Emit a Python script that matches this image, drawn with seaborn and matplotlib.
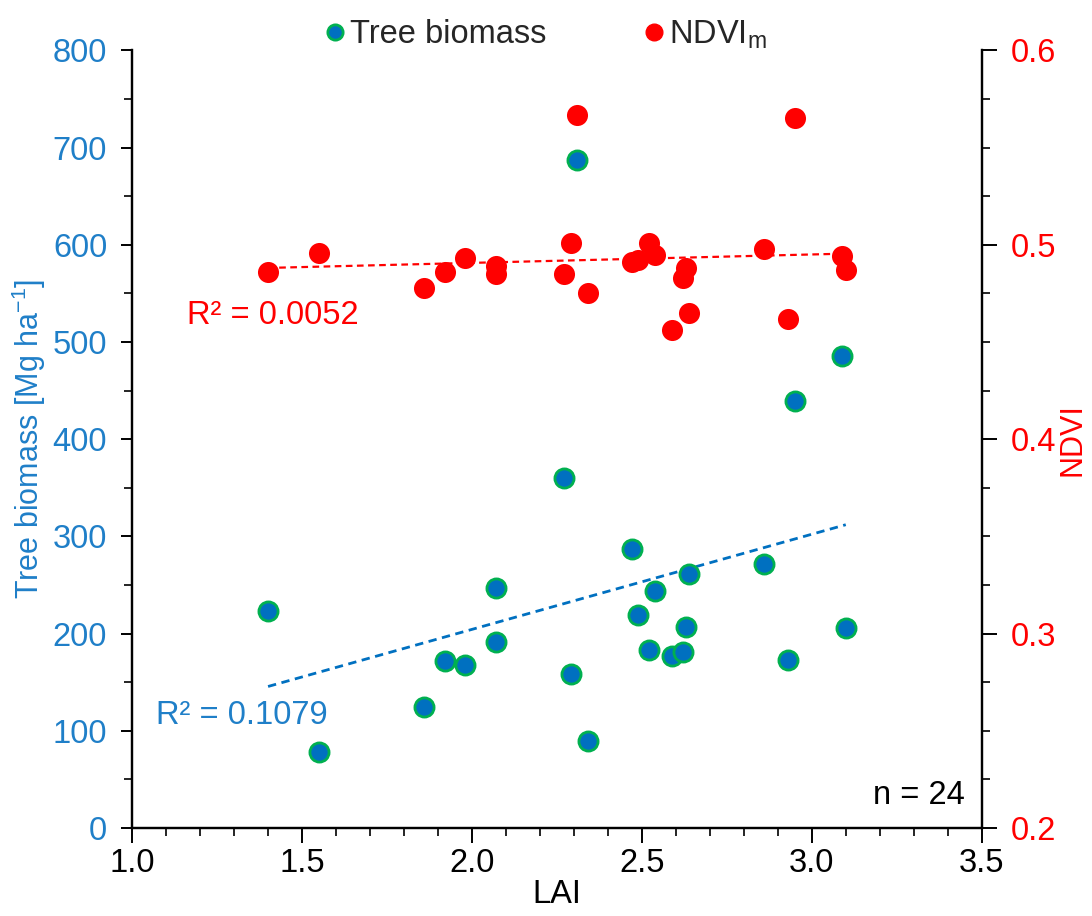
import numpy as np
import pandas as pd
import seaborn as sns
import matplotlib.pyplot as plt
from matplotlib.ticker import MultipleLocator
from matplotlib.lines import Line2D

# datos
lai = [1.40, 1.55, 1.86, 1.92, 1.98, 2.07, 2.07, 2.27, 2.29, 2.31, 2.34, 2.47,
       2.49, 2.52, 2.54, 2.59, 2.62, 2.63, 2.64, 2.86, 2.93, 2.95, 3.09, 3.10]
biomass = [223, 78, 125, 172, 168, 247, 191, 360, 158, 687, 90, 287,
           219, 183, 244, 177, 181, 207, 261, 272, 173, 439, 486, 206]
ndvi = [0.486, 0.496, 0.478, 0.486, 0.493, 0.489, 0.485, 0.485, 0.501, 0.567, 0.475, 0.491,
        0.492, 0.501, 0.495, 0.456, 0.483, 0.488, 0.465, 0.498, 0.462, 0.565, 0.494, 0.487]
r2_biomass = "R² = 0.1079"
r2_ndvi = "R² = 0.0052"
n_label = "n = 24"

df = pd.DataFrame({"LAI": lai, "biomass": biomass, "ndvi": ndvi})

blue = "#0070C0"
blue_txt = "#1F7FC8"
green = "#00B050"
red = "#FF0000"

sns.set_theme(style="ticks")
plt.rcParams['font.family'] = ['Liberation Sans', 'DejaVu Sans']
plt.rcParams['mathtext.fontset'] = 'custom'
plt.rcParams['mathtext.rm'] = 'Liberation Sans'
fs = 23.5

fig, ax = plt.subplots(figsize=(10.92, 9.16), dpi=100)
fig.subplots_adjust(left=0.121, right=0.899, bottom=0.096, top=0.945)
ax2 = ax.twinx()

# biomasa (eje izquierdo)
sns.regplot(data=df, x="LAI", y="biomass", scatter=False, ci=None, ax=ax, color=blue,
            line_kws=dict(ls=(0, (3, 2)), lw=2))
sns.scatterplot(data=df, x="LAI", y="biomass", ax=ax, color=blue, edgecolor=green,
                linewidth=2, s=190, zorder=3)

# NDVI (eje derecho)
sns.regplot(data=df, x="LAI", y="ndvi", scatter=False, ci=None, ax=ax2, color=red,
            line_kws=dict(ls=(0, (3, 2)), lw=1.6))
sns.scatterplot(data=df, x="LAI", y="ndvi", ax=ax2, color=red, edgecolor=red,
                linewidth=0, s=230, zorder=3)

ax.set_xlim(1.0, 3.5)
ax.set_ylim(0, 800)
ax2.set_ylim(0.2, 0.6)

ax.xaxis.set_major_locator(MultipleLocator(0.5))
ax.xaxis.set_minor_locator(MultipleLocator(0.1))
ax.yaxis.set_major_locator(MultipleLocator(100))
ax.yaxis.set_minor_locator(MultipleLocator(50))
ax2.yaxis.set_major_locator(MultipleLocator(0.1))
ax2.yaxis.set_minor_locator(MultipleLocator(0.025))
ax.xaxis.set_major_formatter(lambda v, p: f"{v:.1f}")
ax2.yaxis.set_major_formatter(lambda v, p: f"{v:.1f}")

for a in (ax, ax2):
    a.spines['top'].set_visible(False)
    for s in ('left', 'right', 'bottom'):
        a.spines[s].set_linewidth(1.6)
        a.spines[s].set_color('black')
    a.tick_params(which='major', length=8, width=1.4, labelsize=fs, color='black')
    a.tick_params(which='minor', length=6, width=1.2, color='black')

ax.tick_params(axis='y', labelcolor=blue_txt, pad=10)
ax.tick_params(axis='x', which='major', length=11, labelcolor='black')
ax2.tick_params(axis='y', which='major', length=11, labelcolor=red, pad=10)

ax.set_xlabel("LAI", fontsize=fs, color='black', labelpad=0)
ax.set_ylabel("Tree biomass [Mg ha$^{\\mathregular{-1}}$]", fontsize=22, color=blue_txt,
              labelpad=3)
ax2.set_ylabel("NDVI", fontsize=22, color=red, labelpad=1)

ax.text(1.07, 116, r2_biomass, fontsize=fs, color=blue_txt, va='center')
ax2.text(1.16, 0.4637, r2_ndvi, fontsize=fs, color=red, va='center')
ax.text(3.45, 34, n_label, fontsize=fs, color='black', ha='right', va='center')

handles = [
    Line2D([], [], ls='none', marker='o', markersize=11, markerfacecolor=blue,
           markeredgecolor=green, markeredgewidth=2),
    Line2D([], [], ls='none', marker='o', markersize=12, markerfacecolor=red,
           markeredgecolor=red),
]
fig.legend(handles, ["Tree biomass", "NDVI$_\\mathregular{m}$"], loc='upper center',
           bbox_to_anchor=(0.5, 1.012), ncol=2, frameon=False, fontsize=fs,
           handlelength=0.6, handletextpad=0.15, columnspacing=3.0)

fig.savefig("out.png", dpi=100)
